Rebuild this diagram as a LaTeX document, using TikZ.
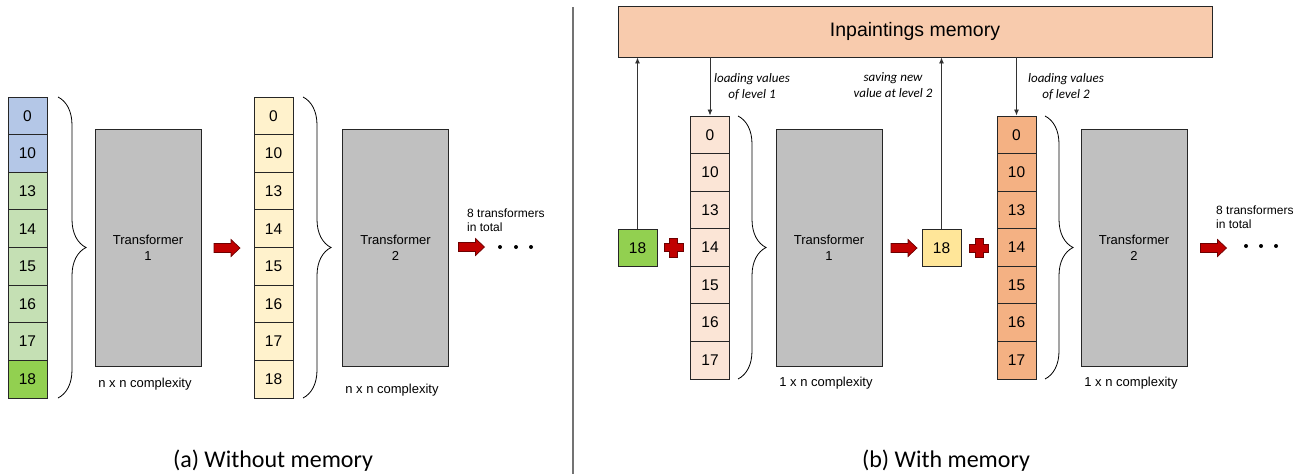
\documentclass[tikz,border=0pt]{standalone}
\usepackage{fontspec}
\setmainfont{Liberation Sans}
\newfontfamily\calfont{Carlito}
\usetikzlibrary{decorations.pathreplacing,arrows.meta}
\definecolor{cblue}{HTML}{B4C7E7}
\definecolor{cgreenL}{HTML}{C5E0B4}
\definecolor{cgreenD}{HTML}{92D050}
\definecolor{cyellowL}{HTML}{FFF2CC}
\definecolor{cpeachM}{HTML}{F8CBAD}
\definecolor{cpeachL}{HTML}{FBE5D6}
\definecolor{corange}{HTML}{F4B183}
\definecolor{cyellowM}{HTML}{FFE699}
\definecolor{cgrayT}{HTML}{C0C0C0}
\definecolor{cred}{HTML}{C00000}
\definecolor{credD}{HTML}{6E0000}
\tikzset{
  cellbox/.style={draw=black!85, line width=0.9pt, minimum width=39pt, minimum height=37.6pt, inner sep=0pt, font=\fontsize{15.5}{18}\selectfont},
  tbox/.style={draw=black!85, line width=0.9pt, fill=cgrayT, minimum width=106pt, minimum height=237pt, inner sep=0pt, align=center, font=\fontsize{13}{16}\selectfont},
  cplx/.style={font=\fontsize{13}{16}\selectfont, inner sep=0pt},
  total/.style={font=\fontsize{12}{14}\selectfont, align=left, inner sep=0pt, anchor=west},
  redarr/.style={draw=credD, line width=0.7pt, fill=cred},
  bracepath/.style={decorate, decoration={brace, amplitude=28pt}, line width=0.8pt},
  memarrow/.style={draw=black!80, line width=0.9pt, -{Latex[length=6pt,width=5pt]}},
  itlabel/.style={font=\calfont\itshape\fontsize{13}{16}\selectfont, align=center, inner sep=0pt},
  caption/.style={font=\calfont\fontsize{24}{28}\selectfont, inner sep=0pt},
  dotc/.style={fill=black, circle, inner sep=0pt, minimum size=4pt},
  plusc/.style={fill=cred, draw=credD, line width=0.6pt}
}
\newcommand\myredarrow[2]{%
  \draw[redarr] (#1-13,#2+4.5) -- (#1+4,#2+4.5) -- (#1+4,#2+8.5) -- (#1+13,#2) -- (#1+4,#2-8.5) -- (#1+4,#2-4.5) -- (#1-13,#2-4.5) -- cycle;}
\newcommand\myplus[2]{%
  \draw[plusc] (#1-4,#2+9.5) -- (#1+4,#2+9.5) -- (#1+4,#2+4) -- (#1+9.5,#2+4) -- (#1+9.5,#2-4) -- (#1+4,#2-4) -- (#1+4,#2-9.5) -- (#1-4,#2-9.5) -- (#1-4,#2-4) -- (#1-9.5,#2-4) -- (#1-9.5,#2+4) -- (#1-4,#2+4) -- cycle;}
\begin{document}
\begin{tikzpicture}[x=1pt,y=1pt]
\useasboundingbox (0,0) rectangle (1305,-474);
% ---------- (a) ----------
\foreach \v/\c [count=\i from 0] in {0/cblue,10/cblue,13/cgreenL,14/cgreenL,15/cgreenL,16/cgreenL,17/cgreenL,18/cgreenD}{
  \node[cellbox, fill=\c] (ca\i) at (27.5,{-97-37.625*(\i+0.5)}) {\v};
}
\foreach \v [count=\i from 0] in {0,10,13,14,15,16,17,18}{
  \node[cellbox, fill=cyellowL] (cy\i) at (273.5,{-97-37.625*(\i+0.5)}) {\v};
}
\draw[bracepath] (58,-97) -- (58,-398);
\draw[bracepath] (303,-97) -- (303,-398);
\node[tbox] (ta1) at (148,-247.5) {Transformer\\1};
\node[tbox] (ta2) at (395.5,-247.5) {Transformer\\2};
\node[cplx] (xa1) at (145,-384) {n x n complexity};
\node[cplx] (xa2) at (392,-390) {n x n complexity};
\myredarrow{227}{-248}
\myredarrow{471.5}{-247}
\node[total] (tota) at (467,-220) {8 transformers\\in total};
\node[dotc] (da1) at (500,-247) {};
\node[dotc] (da2) at (516,-247) {};
\node[dotc] (da3) at (531,-247) {};
\node[caption] (capa) at (273,-461) {(a) Without memory};
% divider
\draw[line width=1.2pt, black!55] (573,-7) -- (573,-474);
% ---------- (b) ----------
\node[draw=black!85, line width=0.9pt, fill=cpeachM, minimum width=594pt, minimum height=51pt, inner sep=0pt, font=\fontsize{19.5}{22}\selectfont] (mem) at (915,-31.5) {Inpaintings memory};
\node[cellbox, fill=cgreenD] (g18) at (637.5,-248) {18};
\node[cellbox, fill=cyellowM] (y18) at (941.5,-248) {18};
\foreach \v [count=\i from 0] in {0,10,13,14,15,16,17}{
  \node[cellbox, fill=cpeachL] (cp\i) at (710,{-116-37.57*(\i+0.5)}) {\v};
  \node[cellbox, fill=corange] (co\i) at (1016.5,{-116-37.57*(\i+0.5)}) {\v};
}
\draw[bracepath] (738,-116) -- (738,-379);
\draw[bracepath] (1045,-116) -- (1045,-379);
\node[tbox] (tb1) at (829,-247.5) {Transformer\\1};
\node[tbox] (tb2) at (1134,-247.5) {Transformer\\2};
\node[cplx] (xb1) at (826,-383) {1 x n complexity};
\node[cplx] (xb2) at (1131,-383) {1 x n complexity};
\myredarrow{904}{-248}
\myredarrow{1213.5}{-248}
\node[total] (totb) at (1216,-217) {8 transformers\\in total};
\node[dotc] (db1) at (1246,-246) {};
\node[dotc] (db2) at (1261,-246) {};
\node[dotc] (db3) at (1276,-246) {};
% plus signs
\myplus{673.5}{-247.5}
\myplus{979}{-248}
% memory arrows
\draw[memarrow] (g18.north) -- (g18.north |- mem.south);
\draw[memarrow] (mem.south -| cp0.north) -- (cp0.north);
\draw[memarrow] (y18.north) -- (y18.north |- mem.south);
\draw[memarrow] (mem.south -| co0.north) -- (co0.north);
\node[itlabel] (l1) at (752,-87) {loading values\\of level 1};
\node[itlabel] (l2) at (893,-85) {saving new\\value at level 2};
\node[itlabel] (l3) at (1066,-87) {loading values\\of level 2};
\node[caption] (capb) at (946,-461) {(b) With memory};
\end{tikzpicture}
\end{document}
